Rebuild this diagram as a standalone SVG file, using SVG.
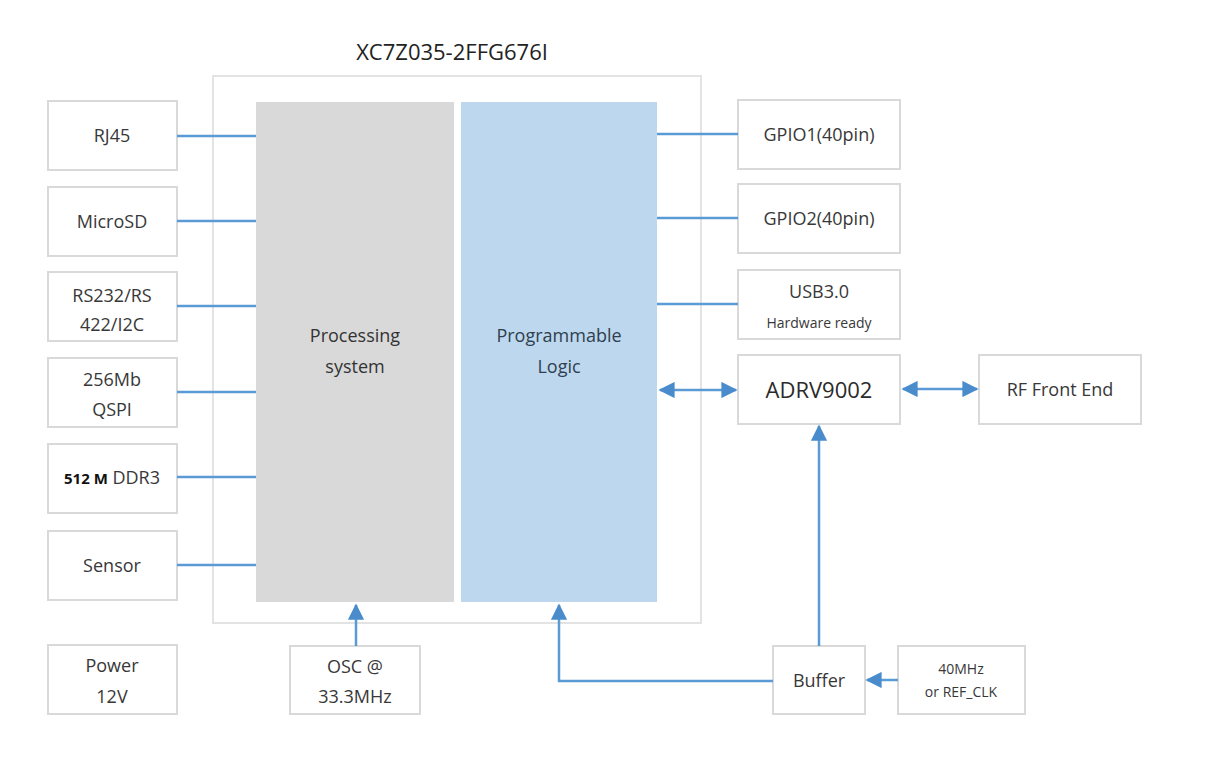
<svg xmlns="http://www.w3.org/2000/svg" width="1209" height="762" viewBox="0 0 1209 762">
<style>
.bg{fill:#ffffff}
.box{fill:#ffffff;stroke:#d9d9d9;stroke-width:2}
.t{font-family:"Open Sans","Liberation Sans",sans-serif;font-size:18px;fill:#383838;text-anchor:middle;font-weight:500}
.s{font-size:14px}
.ln{stroke:#5b9bd5;stroke-width:2.5;fill:none}
</style>
<defs>
<marker id="ah" viewBox="0 0 10 10" refX="9" refY="5" markerWidth="7" markerHeight="6.5" orient="auto-start-reverse" markerUnits="strokeWidth">
<path d="M0,0 L10,5 L0,10 z" fill="#4a8ccb"/>
</marker>
</defs>
<rect class="bg" x="0" y="0" width="1209" height="762"/>

<g id="chip">
<text class="t" x="452" y="60" style="font-size:22px;fill:#222222">XC7Z035-2FFG676I</text>
<rect x="213" y="76" width="488" height="547" fill="#ffffff" stroke="#e3e3e3" stroke-width="2"/>
</g>
<g id="ps">
<rect x="256" y="102" width="198" height="500" fill="#d9d9d9"/>
<text class="t" x="355" y="342" style="fill:#333333">Processing</text>
<text class="t" x="355" y="373" style="fill:#333333">system</text>
</g>
<g id="pl">
<rect x="461" y="102" width="196" height="500" fill="#bdd7ee"/>
<text class="t" x="559" y="342" style="fill:#2f3f4f">Programmable</text>
<text class="t" x="559" y="373" style="fill:#2f3f4f">Logic</text>
</g>

<g id="rj45"><rect class="box" x="48" y="101" width="129" height="69"/><text class="t" x="112" y="142">RJ45</text></g>
<g id="microsd"><rect class="box" x="48" y="187" width="129" height="69"/><text class="t" x="112" y="228">MicroSD</text></g>
<g id="rs232"><rect class="box" x="48" y="272" width="129" height="69"/><text class="t" x="112" y="302">RS232/RS</text><text class="t" x="112" y="331">422/I2C</text></g>
<g id="qspi"><rect class="box" x="48" y="358" width="129" height="69"/><text class="t" x="112" y="386">256Mb</text><text class="t" x="112" y="416">QSPI</text></g>
<g id="ddr3"><rect class="box" x="48" y="444" width="129" height="69"/><text class="t" x="112" y="484"><tspan style="font-size:15px;font-weight:bold;fill:#111111">512 M</tspan> DDR3</text></g>
<g id="sensor"><rect class="box" x="48" y="531" width="129" height="69"/><text class="t" x="112" y="572">Sensor</text></g>
<g id="power"><rect class="box" x="48" y="645" width="129" height="69"/><text class="t" x="112" y="672">Power</text><text class="t" x="112" y="703">12V</text></g>

<g id="gpio1"><rect class="box" x="738" y="100" width="162" height="69"/><text class="t" x="819" y="141">GPIO1(40pin)</text></g>
<g id="gpio2"><rect class="box" x="738" y="184" width="162" height="69"/><text class="t" x="819" y="225">GPIO2(40pin)</text></g>
<g id="usb3"><rect class="box" x="738" y="270" width="162" height="69"/><text class="t" x="819" y="298">USB3.0</text><text class="t s" x="819" y="328">Hardware ready</text></g>
<g id="adrv"><rect class="box" x="738" y="355" width="162" height="69"/><text class="t" x="819" y="398" style="font-size:22px;fill:#2a2a2a">ADRV9002</text></g>
<g id="rf"><rect class="box" x="979" y="355" width="162" height="69"/><text class="t" x="1060" y="396">RF Front End</text></g>

<g id="osc"><rect class="box" x="290" y="646" width="130" height="68"/><text class="t" x="355" y="673">OSC @</text><text class="t" x="355" y="703">33.3MHz</text></g>
<g id="buffer"><rect class="box" x="773" y="646" width="92" height="68"/><text class="t" x="819" y="687">Buffer</text></g>
<g id="clk"><rect class="box" x="898" y="646" width="127" height="68"/><text class="t s" x="961" y="674">40MHz</text><text class="t s" x="961" y="697">or REF_CLK</text></g>

<g id="connectors">
<line class="ln" x1="177" y1="136" x2="256" y2="136"/>
<line class="ln" x1="177" y1="221" x2="256" y2="221"/>
<line class="ln" x1="177" y1="306" x2="256" y2="306"/>
<line class="ln" x1="177" y1="392" x2="256" y2="392"/>
<line class="ln" x1="177" y1="477" x2="256" y2="477"/>
<line class="ln" x1="177" y1="565" x2="256" y2="565"/>
<line class="ln" x1="657" y1="134" x2="738" y2="134"/>
<line class="ln" x1="657" y1="218" x2="738" y2="218"/>
<line class="ln" x1="657" y1="304" x2="738" y2="304"/>
<line class="ln" x1="660" y1="390" x2="736" y2="390" marker-start="url(#ah)" marker-end="url(#ah)"/>
<line class="ln" x1="903" y1="389" x2="977" y2="389" marker-start="url(#ah)" marker-end="url(#ah)"/>
<line class="ln" x1="819" y1="646" x2="819" y2="426" marker-end="url(#ah)"/>
<line class="ln" x1="898" y1="680" x2="867" y2="680" marker-end="url(#ah)"/>
<polyline class="ln" points="773,681 559,681 559,605" marker-end="url(#ah)"/>
<line class="ln" x1="356" y1="646" x2="356" y2="605" marker-end="url(#ah)"/>
</g>
</svg>
